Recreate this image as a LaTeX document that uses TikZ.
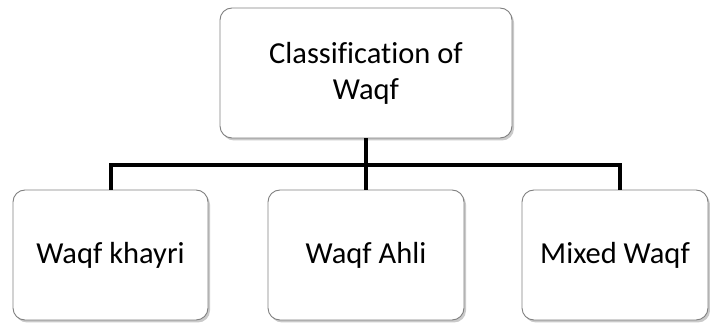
\documentclass[tikz,border=0pt]{standalone}
\usepackage{fontspec}
\setmainfont[Ligatures=NoCommon]{Carlito}
\usetikzlibrary{shadows,calc}
\begin{document}
\begin{tikzpicture}[x=1pt,y=-1pt,
  box/.style={draw=black!50, line width=0.9pt, fill=white, rounded corners=12pt,
    align=center, inner sep=0pt, font=\fontsize{30.5}{36}\selectfont,
    drop shadow={shadow xshift=2pt, shadow yshift=-2.5pt, opacity=0.35, fill=black!60}},
  conn/.style={line width=4pt, draw=black}]
\useasboundingbox (0,0) rectangle (710,323);
\node[box, minimum width=292pt, minimum height=130pt] (top) at (366,73) {Classification of\\Waqf};
\node[box, minimum width=195pt, minimum height=130pt] (l) at (110.5,255) {Waqf khayri};
\node[box, minimum width=196pt, minimum height=130pt] (m) at (366,255) {Waqf Ahli};
\node[box, minimum width=186pt, minimum height=130pt] (r) at (615,255) {Mixed Waqf};
\coordinate (j) at (top.south |- 0,165);
\draw[conn] (top.south) -- (j);
\draw[conn] (j) -| (l.north);
\draw[conn] (j) -- (m.north);
\draw[conn] (j) -| ($(r.north)+(5,0)$);
\end{tikzpicture}
\end{document}
